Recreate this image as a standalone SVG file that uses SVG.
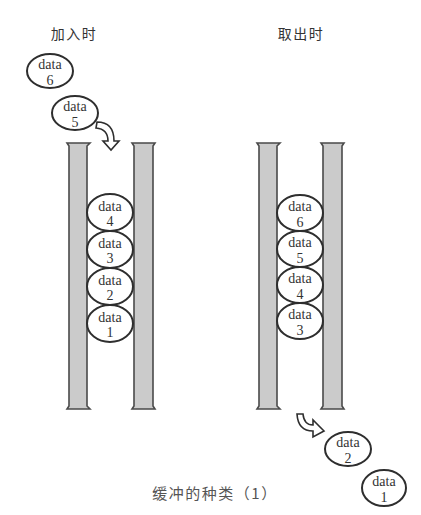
<svg xmlns="http://www.w3.org/2000/svg" width="421" height="515" viewBox="0 0 421 515">
<defs>
<style>
.tube{fill:#cbcbcb;stroke:#4a4a4a;stroke-width:1.6}
.ell{fill:#fff;stroke:#2e2e2e;stroke-width:2}
.dt{font-family:"Liberation Serif",serif;font-size:14px;fill:#333;text-anchor:middle}
.cap{font-family:"Noto Sans CJK SC",sans-serif;font-size:14px;fill:#333;text-anchor:middle;letter-spacing:1.5px}
.arr{fill:#fff;stroke:#2e2e2e;stroke-width:1.6;stroke-linejoin:miter}
</style>
</defs>
<rect width="421" height="515" fill="#fff"/>
<text class="cap" x="74" y="39">加入时</text>
<text class="cap" x="301" y="39">取出时</text>
<g id="tubeL1"><path class="tube" d="M67,143 H90 L87,146 V406 L90,409 H67 L69,406 V146 Z"/></g>
<g id="tubeL2"><path class="tube" d="M132,143 H155 L153,146 V406 L155,409 H132 L134,406 V146 Z"/></g>
<g id="tubeR1"><path class="tube" d="M257,143 H280 L277,146 V406 L280,409 H257 L259,406 V146 Z"/></g>
<g id="tubeR2"><path class="tube" d="M321,143 H344 L342,146 V406 L344,409 H321 L323,406 V146 Z"/></g>
<g id="in6"><ellipse class="ell" cx="50" cy="71" rx="23" ry="17"/><text class="dt" x="50" y="69">data</text><text class="dt" x="50" y="84.5">6</text></g>
<g id="in5"><ellipse class="ell" cx="75" cy="113" rx="23" ry="17"/><text class="dt" x="75" y="111">data</text><text class="dt" x="75" y="126.5">5</text></g>
<g id="L4"><ellipse class="ell" cx="110" cy="212.5" rx="23" ry="18.5"/><text class="dt" x="110" y="210.5">data</text><text class="dt" x="110" y="226">4</text></g>
<g id="L3"><ellipse class="ell" cx="110" cy="249.5" rx="23" ry="18.5"/><text class="dt" x="110" y="247.5">data</text><text class="dt" x="110" y="263">3</text></g>
<g id="L2"><ellipse class="ell" cx="110" cy="286.5" rx="23" ry="18.5"/><text class="dt" x="110" y="284.5">data</text><text class="dt" x="110" y="300">2</text></g>
<g id="L1"><ellipse class="ell" cx="110" cy="323.5" rx="23" ry="18.5"/><text class="dt" x="110" y="321.5">data</text><text class="dt" x="110" y="337">1</text></g>
<g id="R6"><ellipse class="ell" cx="300" cy="213" rx="23" ry="18"/><text class="dt" x="300" y="211">data</text><text class="dt" x="300" y="226.5">6</text></g>
<g id="R5"><ellipse class="ell" cx="300" cy="249" rx="23" ry="18"/><text class="dt" x="300" y="247">data</text><text class="dt" x="300" y="262.5">5</text></g>
<g id="R4"><ellipse class="ell" cx="300" cy="285" rx="23" ry="18"/><text class="dt" x="300" y="283">data</text><text class="dt" x="300" y="298.5">4</text></g>
<g id="R3"><ellipse class="ell" cx="300" cy="321" rx="23" ry="18"/><text class="dt" x="300" y="319">data</text><text class="dt" x="300" y="334.5">3</text></g>
<g id="out2"><ellipse class="ell" cx="348" cy="449" rx="23" ry="17"/><text class="dt" x="348" y="447">data</text><text class="dt" x="348" y="462.5">2</text></g>
<g id="out1"><ellipse class="ell" cx="384" cy="488" rx="22" ry="18"/><text class="dt" x="384" y="486">data</text><text class="dt" x="384" y="501.5">1</text></g>
<g id="connectors">
<path class="arr" d="M97,122 Q114,122 114,141 L119,141 L111,150 L103,141 L108,141 Q108,129 96,128 Z"/>
<path class="arr" d="M297,414 L303,414 Q304,425 313,425 L313,420 L324,431 L313,437 L313,431 Q298,431 297,414 Z"/>
</g>
<text class="cap" x="215" y="499" style="fill:#555;font-size:15px">缓冲的种类（1）</text>
</svg>
